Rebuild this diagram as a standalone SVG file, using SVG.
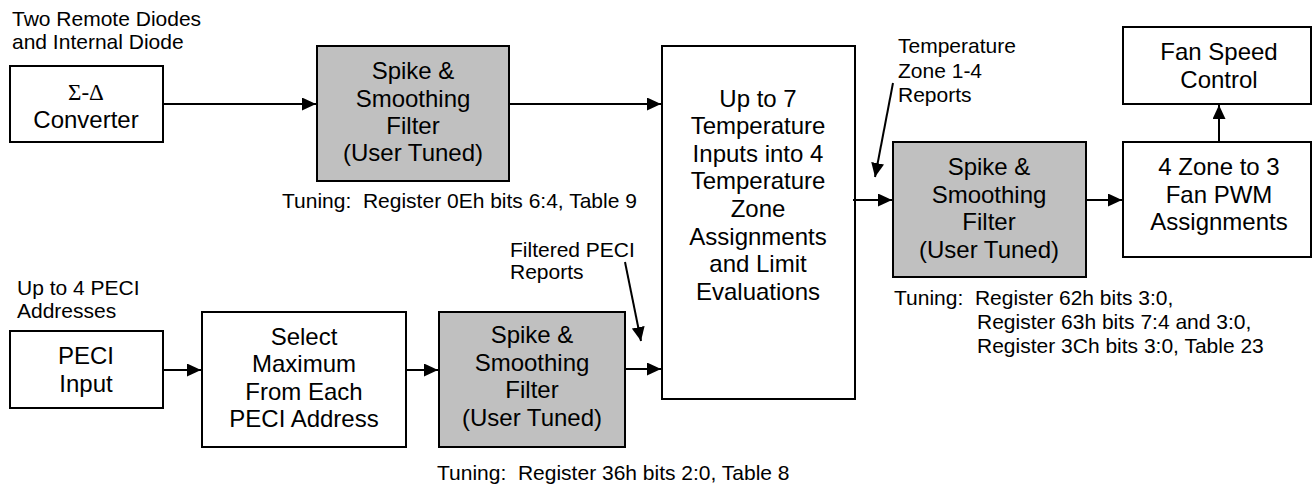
<svg xmlns="http://www.w3.org/2000/svg" width="1313" height="491" viewBox="0 0 1313 491">
<style>
.box{fill:#fff;stroke:#000;stroke-width:2}
.flt{fill:#c0c0c0;stroke:#000;stroke-width:2}
.t{font-family:"Liberation Sans",Arial,sans-serif;font-size:24px;text-anchor:middle;fill:#000}
.l{font-family:"Liberation Sans",Arial,sans-serif;font-size:21px;fill:#000}
.c{stroke:#000;stroke-width:2;fill:none}
.s{font-family:"Liberation Serif","Times New Roman",serif;font-size:23px;text-anchor:middle;fill:#000}
</style>
<defs>
<marker id="ah" markerUnits="userSpaceOnUse" markerWidth="15" markerHeight="13" refX="14" refY="6.5" orient="auto">
<path d="M0,0 L14,6.5 L0,13 z" fill="#000"/>
</marker>
</defs>
<rect width="1313" height="491" fill="#fff"/>

<g id="labels">
<text class="l" x="12" y="26">Two Remote Diodes</text>
<text class="l" x="12" y="49">and Internal Diode</text>
<text class="l" x="282" y="208" xml:space="preserve">Tuning:  Register 0Eh bits 6:4, Table 9</text>
<text class="l" x="898" y="53">Temperature</text>
<text class="l" x="898" y="78">Zone 1-4</text>
<text class="l" x="898" y="102">Reports</text>
<text class="l" x="510" y="257">Filtered PECI</text>
<text class="l" x="510" y="279">Reports</text>
<text class="l" x="17" y="295">Up to 4 PECI</text>
<text class="l" x="17" y="318">Addresses</text>
<text class="l" x="894" y="305" xml:space="preserve">Tuning:  Register 62h bits 3:0,</text>
<text class="l" x="977" y="329">Register 63h bits 7:4 and 3:0,</text>
<text class="l" x="977" y="353">Register 3Ch bits 3:0, Table 23</text>
<text class="l" x="437" y="480" xml:space="preserve">Tuning:  Register 36h bits 2:0, Table 8</text>
</g>

<g id="sigma-delta">
<rect class="box" x="10" y="66" width="153" height="76"/>
<text class="s" x="86" y="100">Σ-Δ</text>
<text class="t" x="86" y="128">Converter</text>
</g>

<g id="filter1">
<rect class="flt" x="317" y="46" width="192" height="135"/>
<text class="t" x="413" y="79">Spike &amp;</text>
<text class="t" x="413" y="107">Smoothing</text>
<text class="t" x="413" y="134">Filter</text>
<text class="t" x="413" y="161">(User Tuned)</text>
</g>

<g id="zone-assign">
<rect class="box" x="662" y="46" width="193" height="353"/>
<text class="t" x="758" y="107">Up to 7</text>
<text class="t" x="758" y="134">Temperature</text>
<text class="t" x="758" y="162">Inputs into  4</text>
<text class="t" x="758" y="189">Temperature</text>
<text class="t" x="758" y="217">Zone</text>
<text class="t" x="758" y="245">Assignments</text>
<text class="t" x="758" y="272">and Limit</text>
<text class="t" x="758" y="300">Evaluations</text>
</g>

<g id="filter3">
<rect class="flt" x="893" y="142" width="193" height="135"/>
<text class="t" x="989" y="175">Spike &amp;</text>
<text class="t" x="989" y="203">Smoothing</text>
<text class="t" x="989" y="230">Filter</text>
<text class="t" x="989" y="258">(User Tuned)</text>
</g>

<g id="pwm-assign">
<rect class="box" x="1123" y="142" width="188" height="115"/>
<text class="t" x="1219" y="175">4 Zone to 3</text>
<text class="t" x="1219" y="203">Fan PWM</text>
<text class="t" x="1219" y="230">Assignments</text>
</g>

<g id="fan-speed">
<rect class="box" x="1123" y="27" width="188" height="77"/>
<text class="t" x="1219" y="60">Fan Speed</text>
<text class="t" x="1219" y="88">Control</text>
</g>

<g id="peci-input">
<rect class="box" x="10" y="331" width="153" height="77"/>
<text class="t" x="86" y="364">PECI</text>
<text class="t" x="86" y="392">Input</text>
</g>

<g id="select-max">
<rect class="box" x="202" y="312" width="204" height="135"/>
<text class="t" x="304" y="345">Select</text>
<text class="t" x="304" y="372">Maximum</text>
<text class="t" x="304" y="400">From Each</text>
<text class="t" x="304" y="427">PECI Address</text>
</g>

<g id="filter2">
<rect class="flt" x="439" y="312" width="186" height="135"/>
<text class="t" x="532" y="343">Spike &amp;</text>
<text class="t" x="532" y="371">Smoothing</text>
<text class="t" x="532" y="398">Filter</text>
<text class="t" x="532" y="426">(User Tuned)</text>
</g>

<g id="connectors">
<line class="c" x1="163" y1="104" x2="316" y2="104" marker-end="url(#ah)"/>
<line class="c" x1="509" y1="104" x2="661" y2="104" marker-end="url(#ah)"/>
<line class="c" x1="853" y1="200" x2="892" y2="200" marker-end="url(#ah)"/>
<line class="c" x1="1086" y1="200" x2="1122" y2="200" marker-end="url(#ah)"/>
<line class="c" x1="1219" y1="142" x2="1219" y2="105" marker-end="url(#ah)"/>
<line class="c" x1="163" y1="370" x2="201" y2="370" marker-end="url(#ah)"/>
<line class="c" x1="406" y1="370" x2="438" y2="370" marker-end="url(#ah)"/>
<line class="c" x1="625" y1="369" x2="661" y2="369" marker-end="url(#ah)"/>
<line class="c" x1="893" y1="83" x2="875" y2="177" marker-end="url(#ah)"/>
<line class="c" x1="625" y1="262" x2="641" y2="341" marker-end="url(#ah)"/>
</g>
</svg>
